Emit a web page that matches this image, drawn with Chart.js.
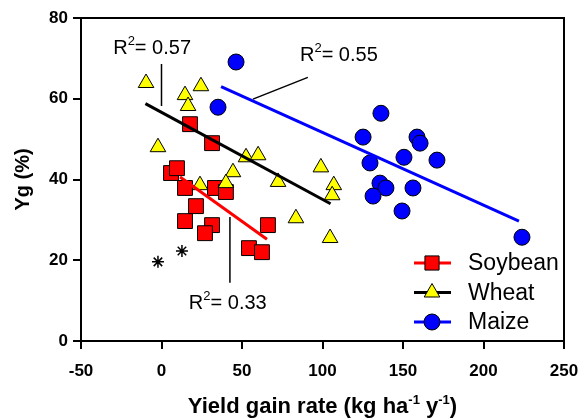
<!DOCTYPE html>
<html>
<head>
<meta charset="utf-8">
<script src="https://cdn.jsdelivr.net/npm/chart.js@4.4.1/dist/chart.umd.min.js"></script>
<style>body{margin:0;background:#fff}</style>
</head>
<body>
<canvas id="yieldChart" width="580" height="420"></canvas>
<script>
// Soybean
var soyX = [17.7, 31.4, 5.9, 9.6, 14.6, 33.2, 40, 21.4, 14.6, 31.4, 27, 66.1, 54.3, 62.4];
var soyY = [53.7, 49, 41.6, 42.8, 37.9, 37.9, 36.9, 33.4, 29.7, 28.7, 26.7, 28.7, 23, 22];
// Wheat
var wheatX = [-9.6, 14.6, 24.5, 16.5, -2.2, 52.5, 60, 44.4, 23.9, 40, 72.4, 83.5, 99, 107, 106, 104.7];
var wheatY = [63.9, 60.9, 63.1, 58.2, 48, 45.5, 46, 41.8, 38.6, 39.1, 39.4, 30.4, 43, 38.6, 36.1, 25.5];
// Maize
var maizeX = [46.3, 35.1, 136.3, 125.2, 158.7, 160.6, 150.6, 171.1, 129.5, 135.7, 139.4, 131.4, 156.2, 149.4, 223.9];
var maizeY = [69.1, 57.9, 56.4, 50.5, 50.5, 49, 45.5, 44.8, 44.1, 39.1, 37.9, 35.9, 37.9, 32.2, 25.7];
// outliers (asterisks)
var outX = [-2.2, 12.7];
var outY = [19.6, 22.3];

// regression lines (end points)
var soyFitX = [11.5, 65.5], soyFitY = [40.6, 25.2];
var wheatFitX = [-10, 105], wheatFitY = [58.8, 34];
var maizeFitX = [37, 222], maizeFitY = [63, 29.7];

var r2Values = ["0.57", "0.55", "0.33"];
var xTicks = [-50, 0, 50, 100, 150, 200, 250];
var yTicks = [0, 20, 40, 60, 80];

function pts(xs, ys) {
    return xs.map(function (x, i) { return { x: x, y: ys[i] }; });
}

// leader lines and label anchors, in data units
var leaders = [
    [{ x: 0, y: 68.6 }, { x: 0, y: 58.2 }],
    [{ x: 90.9, y: 65.3 }, { x: 56.8, y: 59.9 }],
    [{ x: 42.5, y: 30.7 }, { x: 42.5, y: 14.4 }]
];
var r2Anchors = [{ x: -30, y: 72.5 }, { x: 86, y: 70.8 }, { x: 17, y: 9.2 }];

var FONT = "'Liberation Sans', Arial, sans-serif";

var legendItems = [
    { label: "Soybean", line: "#ff0000", style: "rect", radius: 10, fill: "#ff0000" },
    { label: "Wheat", line: "#000000", style: "triangle", radius: 9, fill: "#ffff00" },
    { label: "Maize", line: "#0000ff", style: "circle", radius: 8, fill: "#0000ff" }
];

var extras = {
    id: "extras",
    afterDraw: function (chart) {
        var ctx = chart.ctx, a = chart.chartArea;
        var sx = chart.scales.x, sy = chart.scales.y;
        var L = Math.round(a.left), R = Math.round(a.right), T = Math.round(a.top), B = Math.round(a.bottom);
        ctx.save();
        // box frame and tick marks
        ctx.strokeStyle = "#000000";
        ctx.lineWidth = 2;
        ctx.strokeRect(L, T, R - L, B - T);
        ctx.beginPath();
        ctx.moveTo(L, B);
        ctx.lineTo(L, B + 8);
        xTicks.forEach(function (v) {
            var px = Math.round(sx.getPixelForValue(v));
            ctx.moveTo(px, B);
            ctx.lineTo(px, B + 8);
        });
        yTicks.forEach(function (v) {
            var py = Math.round(sy.getPixelForValue(v));
            ctx.moveTo(L, py);
            ctx.lineTo(L - 8, py);
        });
        ctx.stroke();

        // R2 labels
        ctx.fillStyle = "#000";
        ctx.textBaseline = "middle";
        ctx.textAlign = "left";
        r2Anchors.forEach(function (p, i) {
            var px = sx.getPixelForValue(p.x), py = sy.getPixelForValue(p.y);
            ctx.font = "20px " + FONT;
            ctx.fillText("R", px, py);
            var w = ctx.measureText("R").width;
            ctx.font = "13px " + FONT;
            ctx.fillText("2", px + w, py - 7);
            var w2 = ctx.measureText("2").width;
            ctx.font = "20px " + FONT;
            ctx.fillText("= " + r2Values[i], px + w + w2, py);
        });

        // legend
        legendItems.forEach(function (it, i) {
            var y = 263 + i * 29.5;
            ctx.strokeStyle = it.line;
            ctx.lineWidth = 3;
            ctx.beginPath();
            ctx.moveTo(414, y);
            ctx.lineTo(451, y);
            ctx.stroke();
            ctx.fillStyle = it.fill;
            ctx.strokeStyle = "#000";
            ctx.lineWidth = 1;
            Chart.helpers.drawPoint(ctx, { pointStyle: it.style, radius: it.radius, borderWidth: 1, rotation: 0 }, 432, y);
            ctx.fillStyle = "#000";
            ctx.font = "23px " + FONT;
            ctx.textAlign = "left";
            ctx.fillText(it.label, 468, y + 1);
        });

        // y title
        ctx.save();
        ctx.translate(23, (a.top + a.bottom) / 2);
        ctx.rotate(-Math.PI / 2);
        ctx.font = "bold 20px " + FONT;
        ctx.textAlign = "center";
        ctx.fillText("Yg (%)", 0, 0);
        ctx.restore();

        // x title with superscripts
        var parts = [["Yield gain rate (kg ha", 0], ["-1", 1], [" y", 0], ["-1", 1], [")", 0]];
        var total = 0;
        parts.forEach(function (p) {
            ctx.font = p[1] ? "bold 13px " + FONT : "bold 22px " + FONT;
            total += ctx.measureText(p[0]).width;
        });
        var x = (a.left + a.right) / 2 - total / 2;
        ctx.textBaseline = "alphabetic";
        ctx.textAlign = "left";
        parts.forEach(function (p) {
            ctx.font = p[1] ? "bold 13px " + FONT : "bold 22px " + FONT;
            ctx.fillText(p[0], x, p[1] ? 404 : 413);
            x += ctx.measureText(p[0]).width;
        });
        ctx.restore();
    }
};

function fitLine(xs, ys, color) {
    return { data: pts(xs, ys), showLine: true, borderColor: color, borderWidth: 3, pointRadius: 0 };
}
function leaderLine(seg) {
    return { data: seg, showLine: true, borderColor: "#000", borderWidth: 1.5, pointRadius: 0 };
}

function fixX(s) { s.height = 79; s.paddingLeft = 0; s.paddingRight = 0; }
function fixY(s) { s.width = 81; }

var ctx = document.getElementById("yieldChart").getContext("2d");
new Chart(ctx, {
    type: "scatter",
    data: {
        datasets: [
            fitLine(soyFitX, soyFitY, "#ff0000"),
            fitLine(wheatFitX, wheatFitY, "#000000"),
            fitLine(maizeFitX, maizeFitY, "#0000ff"),
            leaderLine(leaders[0]),
            leaderLine(leaders[1]),
            leaderLine(leaders[2]),
            {
                label: "Maize", data: pts(maizeX, maizeY), pointStyle: "circle", pointRadius: 8,
                backgroundColor: "#0000ff", borderColor: "#000", borderWidth: 1
            },
            {
                label: "Wheat", data: pts(wheatX, wheatY), pointStyle: "triangle", pointRadius: 9,
                backgroundColor: "#ffff00", borderColor: "#000", borderWidth: 1
            },
            {
                label: "Soybean", data: pts(soyX, soyY), pointStyle: "rect", pointRadius: 10.5,
                backgroundColor: "#ff0000", borderColor: "#000", borderWidth: 1
            },
            {
                label: "outliers", data: pts(outX, outY), pointStyle: "star", pointRadius: 6,
                backgroundColor: "#000", borderColor: "#000", borderWidth: 1.5
            }
        ]
    },
    options: {
        responsive: false,
        animation: false,
        layout: { padding: { left: 0, right: 16, top: 18, bottom: 0 } },
        plugins: { legend: { display: false }, tooltip: { enabled: false } },
        scales: {
            x: {
                min: xTicks[0],
                max: xTicks[xTicks.length - 1],
                afterFit: fixX,
                grid: { drawOnChartArea: false, tickLength: 8, color: "#000", lineWidth: 2 },
                border: { color: "#000", width: 2 },
                ticks: { stepSize: xTicks[1] - xTicks[0], color: "#000", padding: 12, font: { family: FONT, size: 17, weight: "bold" } }
            },
            y: {
                min: yTicks[0],
                max: yTicks[yTicks.length - 1],
                afterFit: fixY,
                grid: { drawOnChartArea: false, tickLength: 7, color: "#000", lineWidth: 2 },
                border: { color: "#000", width: 2 },
                ticks: { stepSize: yTicks[1] - yTicks[0], color: "#000", padding: 6, font: { family: FONT, size: 17, weight: "bold" } }
            }
        }
    },
    plugins: [extras]
});
</script>
</body>
</html>
